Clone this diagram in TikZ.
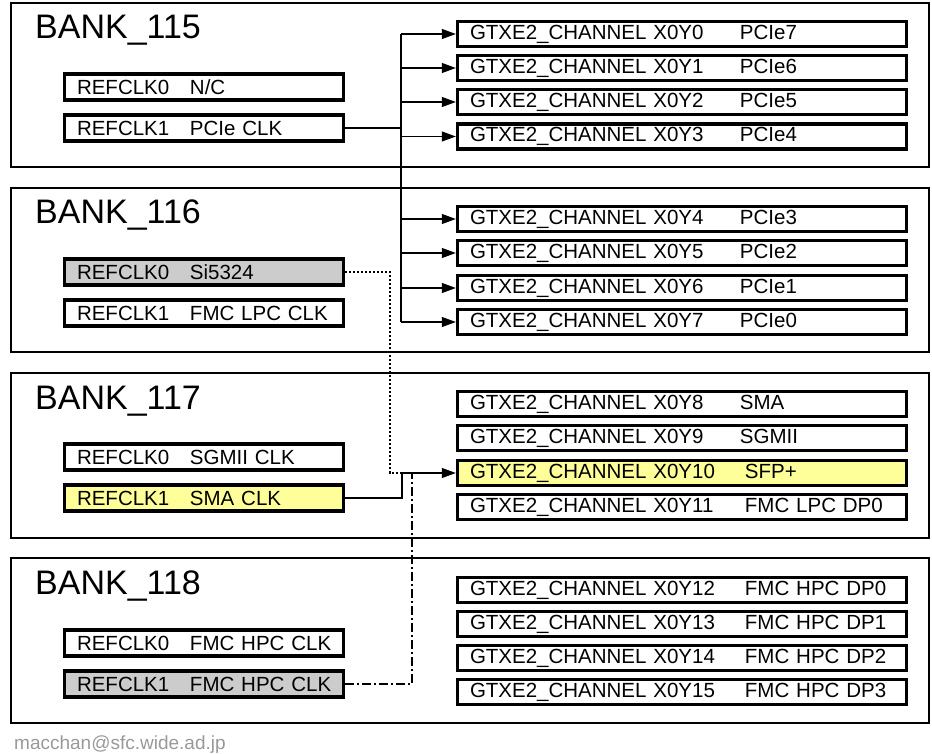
\documentclass[tikz,border=0pt]{standalone}
\usepackage{fontspec}
\setmainfont{Liberation Sans}
\usepackage{tikz}
\usetikzlibrary{positioning,arrows.meta}
\definecolor{sfpfill}{HTML}{FFFF99}
\definecolor{unusedfill}{HTML}{CCCCCC}
\definecolor{footgray}{HTML}{999999}
\tikzset{
  bankbox/.style={draw, line width=2.8pt, minimum width=918pt, minimum height=164pt},
  banklabel/.style={anchor=base west, inner sep=0pt, font=\fontsize{34}{38}\selectfont},
  clkbox/.style={draw, line width=3.4pt, fill=white, minimum height=26pt, text width=254pt, inner xsep=12.5pt, inner ysep=0pt, align=left, font=\fontsize{20.5}{22}\selectfont},
  chbox/.style={draw, line width=3.4pt, fill=white, minimum height=25pt, text width=424pt, inner xsep=12.5pt, inner ysep=0pt, align=left, font=\fontsize{20.5}{22}\selectfont},
  wire/.style={line width=1.1pt},
  arrow/.style={wire, -{Triangle[length=14pt,width=10pt]}},
  dotwire/.style={wire, dash pattern=on 2pt off 2pt},
  dashdotwire/.style={wire, dash pattern=on 9pt off 3pt on 2pt off 3pt}
}
\newcommand{\clk}[2]{\mbox{\makebox[113pt][l]{#1}#2}}
\newcommand{\chan}[3][270pt]{\mbox{\makebox[#1][l]{GTXE2\_CHANNEL #2}#3}}

\begin{document}
\begin{tikzpicture}[x=1pt,y=-1pt]
  \useasboundingbox (0,0) rectangle (932,754);

  \node[bankbox] (b115) at (470,85) {};
  \node[bankbox] (b116) at (470,270) {};
  \node[bankbox, minimum height=165pt] (b117) at (470,455.5) {};
  \node[bankbox, minimum height=165pt] (b118) at (470,640.5) {};
  \node[banklabel] (l115) at (35,39) {BANK\_115};
  \node[banklabel] (l116) at (35,224) {BANK\_116};
  \node[banklabel] (l117) at (35,409) {BANK\_117};
  \node[banklabel] (l118) at (35,594) {BANK\_118};

  \node[clkbox] (clk115r0) at (204,87) {\clk{REFCLK0}{N/C}};
  \node[clkbox] (clk115r1) at (204,128) {\clk{REFCLK1}{PCIe CLK}};
  \node[clkbox, fill=unusedfill] (clk116r0) at (204,272) {\clk{REFCLK0}{Si5324}};
  \node[clkbox] (clk116r1) at (204,313) {\clk{REFCLK1}{FMC LPC CLK}};
  \node[clkbox] (clk117r0) at (204,457) {\clk{REFCLK0}{SGMII CLK}};
  \node[clkbox, fill=sfpfill] (clk117r1) at (204,498) {\clk{REFCLK1}{SMA CLK}};
  \node[clkbox] (clk118r0) at (204,643) {\clk{REFCLK0}{FMC HPC CLK}};
  \node[clkbox, fill=unusedfill] (clk118r1) at (204,684) {\clk{REFCLK1}{FMC HPC CLK}};

  \node[chbox] (ch0) at (682,34) {\chan{X0Y0}{PCIe7}};
  \node[chbox] (ch1) at (682,68) {\chan{X0Y1}{PCIe6}};
  \node[chbox] (ch2) at (682,102) {\chan{X0Y2}{PCIe5}};
  \node[chbox] (ch3) at (682,136.5) {\chan{X0Y3}{PCIe4}};
  \node[chbox] (ch4) at (682,219) {\chan{X0Y4}{PCIe3}};
  \node[chbox] (ch5) at (682,253) {\chan{X0Y5}{PCIe2}};
  \node[chbox] (ch6) at (682,288) {\chan{X0Y6}{PCIe1}};
  \node[chbox] (ch7) at (682,322) {\chan{X0Y7}{PCIe0}};
  \node[chbox] (ch8) at (682,404) {\chan{X0Y8}{SMA}};
  \node[chbox] (ch9) at (682,438) {\chan{X0Y9}{SGMII}};
  \node[chbox, fill=sfpfill] (ch10) at (682,473) {\chan[275pt]{X0Y10}{SFP+}};
  \node[chbox] (ch11) at (682,507) {\chan[275pt]{X0Y11}{FMC LPC DP0}};
  \node[chbox] (ch12) at (682,590) {\chan[275pt]{X0Y12}{FMC HPC DP0}};
  \node[chbox] (ch13) at (682,624) {\chan[275pt]{X0Y13}{FMC HPC DP1}};
  \node[chbox] (ch14) at (682,658) {\chan[275pt]{X0Y14}{FMC HPC DP2}};
  \node[chbox] (ch15) at (682,692) {\chan[275pt]{X0Y15}{FMC HPC DP3}};

  \node[anchor=base west, inner sep=0pt, text=footgray, font=\fontsize{19}{22}\selectfont] (mail) at (14,749) {macchan@sfc.wide.ad.jp};

  \coordinate (pcietrunk) at (401,0);
  \coordinate (smajoin) at (402,0);
  \coordinate (sijoin) at (390,0);
  \coordinate (hpcjoin) at (412,0);

  \draw[wire] (clk115r1.east) -- (clk115r1.east -| pcietrunk);
  \draw[wire] (ch0.west -| pcietrunk) -- (ch7.west -| pcietrunk);
  \draw[arrow] (ch0.west -| pcietrunk) -- (ch0.west);
  \draw[arrow] (ch1.west -| pcietrunk) -- (ch1.west);
  \draw[arrow] (ch2.west -| pcietrunk) -- (ch2.west);
  \draw[arrow] (ch3.west -| pcietrunk) -- (ch3.west);
  \draw[arrow] (ch4.west -| pcietrunk) -- (ch4.west);
  \draw[arrow] (ch5.west -| pcietrunk) -- (ch5.west);
  \draw[arrow] (ch6.west -| pcietrunk) -- (ch6.west);
  \draw[arrow] (ch7.west -| pcietrunk) -- (ch7.west);

  \draw[dotwire] (clk116r0.east) -| (sijoin |- ch10.west) -- (ch10.west -| smajoin);
  \draw[dashdotwire] (clk118r1.east) -| (hpcjoin |- ch10.west);
  \draw[arrow] (clk117r1.east) -| (smajoin |- ch10.west) -- (ch10.west);
\end{tikzpicture}
\end{document}
